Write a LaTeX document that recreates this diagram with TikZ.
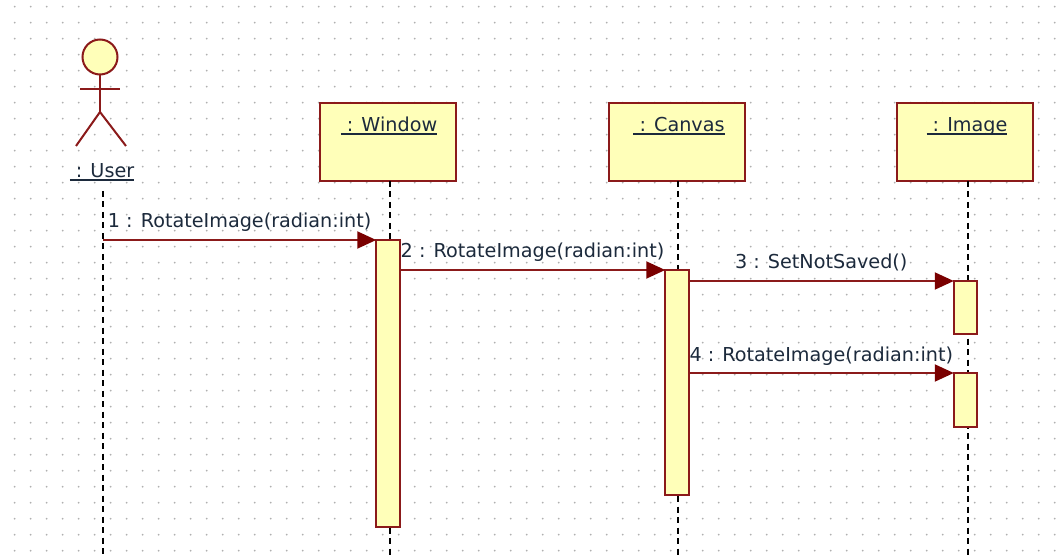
\documentclass[tikz,border=0pt]{standalone}
\usepackage{fontspec}
\setmainfont{DejaVu Sans}
\usetikzlibrary{arrows.meta}

\definecolor{umlline}{HTML}{8B1A1A}
\definecolor{umltip}{HTML}{7A0000}
\definecolor{umlfill}{HTML}{FFFFB9}
\definecolor{griddot}{HTML}{B0B0B0}
\definecolor{umltext}{HTML}{1C2A3C}

\tikzset{
  life box/.style={draw=umlline, fill=umlfill, line width=2pt, minimum width=136pt, minimum height=78pt, inner sep=0pt, outer sep=0pt},
  act bar/.style={draw=umlline, fill=umlfill, line width=2pt, minimum width=23.5pt, inner sep=0pt, outer sep=0pt},
  life line/.style={black, line width=2pt, dash pattern=on 6pt off 4.5pt},
  actor line/.style={umlline, line width=2pt},
  msg/.style={umlline, line width=2pt, -{Triangle[length=19pt, width=17pt, color=umltip]}},
  msg label/.style={above=11pt, midway, inner sep=0pt, text depth=0pt, text=umltext},
  obj label/.style={anchor=base, inner sep=0pt, text=umltext},
  every node/.append style={font=\fontsize{19.2}{22}\selectfont}
}

\newsavebox{\objbox}
\newcommand{\objname}[1]{\sbox{\objbox}{\ : #1}\usebox{\objbox}\llap{\rule[-3pt]{\wd\objbox}{1.5pt}}}

\begin{document}
\begin{tikzpicture}[x=1pt, y=-1pt]

  \useasboundingbox [fill=white] (0,0) rectangle (1061,556);

  \foreach \x in {0,...,65}
    \foreach \y in {0,...,34}
      \fill [griddot] (14.7+\x*16,6.7+\y*16) circle (1pt);

  % objects
  \foreach \m/\x in {window/388, canvas/677, image/965}
    \node [life box] (\m) at (\x,142) {};

  \node [obj label] (window-name) at (389,132) {\objname{Window}};
  \node [obj label] (canvas-name) at (679,132) {\objname{Canvas}};
  \node [obj label] (image-name) at (967,132) {\objname{Image}};

  % actor
  \node [circle, draw=umlline, fill=umlfill, line width=2pt, minimum size=35pt, inner sep=0pt] (head) at (100,57) {};
  \coordinate (hip) at (100,112);
  \coordinate (arm-l) at (80,89);
  \coordinate (arm-r) at (120,89);
  \coordinate (foot-l) at (76,146);
  \coordinate (foot-r) at (126,146);
  \draw [actor line] (head) -- (hip);
  \draw [actor line] (arm-l) -- (arm-r);
  \draw [actor line] (foot-l) -- (hip) -- (foot-r);
  \node [obj label] (user-name) at (102,178) {\objname{User}};

  % lifelines
  \coordinate (user-top) at (103,191);
  \coordinate (user-end) at (103,556);
  \coordinate (window-end) at (389.5,556);
  \coordinate (canvas-end) at (677.5,556);
  \coordinate (image-end) at (967.5,556);
  \draw [life line] (user-top) -- (user-end);
  \draw [life line] (window.south -| window-end) -- (window-end);
  \draw [life line] (canvas.south -| canvas-end) -- (canvas-end);
  \draw [life line] (image.south -| image-end) -- (image-end);

  % activations
  \foreach \m/\x/\t/\b in {window/388/240/527, canvas/677/270/495, imagea/965.5/281/334, imageb/965.5/373/427}
    \node [act bar, minimum height=\b pt-\t pt] (bar-\m) at (\x,{(\t+\b)/2}) {};

  % messages
  \coordinate (msg-start) at (103,240);
  \draw [msg] (msg-start) -- (bar-window.north west)
    node [msg label] {1 : RotateImage(radian:int)};
  \draw [msg] (bar-window.east |- 0,270) -- (bar-canvas.north west)
    node [msg label] {2 : RotateImage(radian:int)};
  \draw [msg] (bar-canvas.east |- 0,281) -- (bar-imagea.north west)
    node [msg label] {3 : SetNotSaved()};
  \draw [msg] (bar-canvas.east |- 0,373) -- (bar-imageb.north west)
    node [msg label] {4 : RotateImage(radian:int)};

\end{tikzpicture}
\end{document}
